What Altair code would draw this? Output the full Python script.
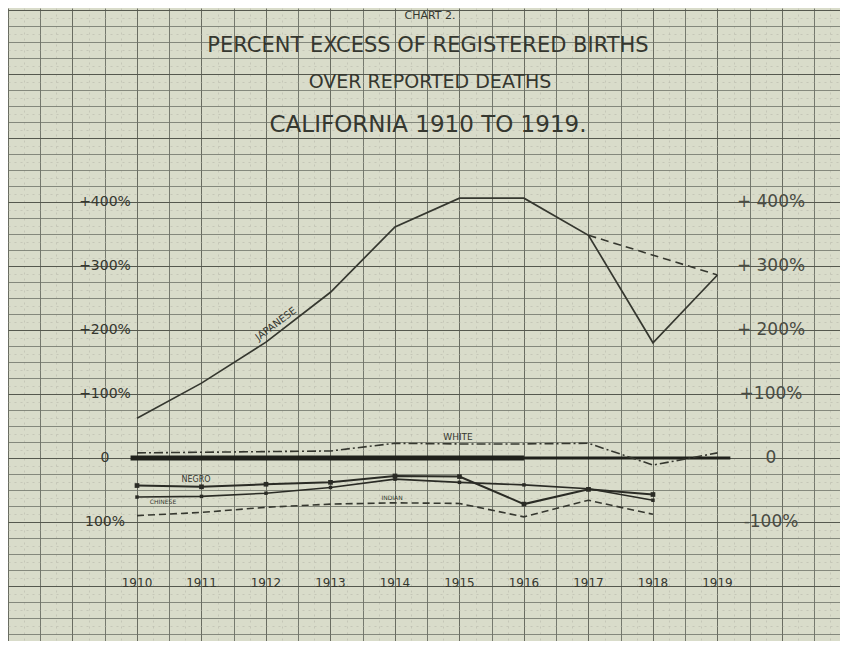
import altair as alt
import pandas as pd
import numpy as np

# ---------------- data ----------------
years = [1910, 1911, 1912, 1913, 1914, 1915, 1916, 1917, 1918, 1919]
japanese = [62, 117, 181, 259, 361, 406, 406, 348, 180, 286]
japanese_alt_years = [1917, 1919]
japanese_alt = [348, 286]
white = [8, 9, 10, 11, 23, 22, 22, 23, -11, 8]
years_to_1918 = [1910, 1911, 1912, 1913, 1914, 1915, 1916, 1917, 1918]
negro = [-43, -45, -41, -38, -28, -29, -72, -49, -57]
chinese = [-61, -60, -55, -46, -33, -38, -42, -48, -66]
indian = [-90, -85, -77, -72, -70, -71, -92, -66, -88]

tick_values = [400, 300, 200, 100, 0, -100]
left_tick_labels = ["+400%", "+300%", "+200%", "+100%", "0", "100%"]
right_tick_labels = ["+ 400%", "+ 300%", "+ 200%", "+100%", "0", "-100%"]
year_labels = [str(y) for y in years]

zero_thick_span = [1909.9, 1916.0]
zero_thin_span = [1916.0, 1919.2]

title_lines = ["PERCENT EXCESS OF REGISTERED BIRTHS",
               "OVER REPORTED DEATHS",
               "CALIFORNIA 1910 TO 1919."]
chart_label = "CHART 2."

# ---------------- styling ----------------
PAPER = "#d9dcca"
INK = "#35372f"
W, H = 832, 633

xs = alt.Scale(domain=[1908.0, 1920.9], nice=False, zero=False)
ys = alt.Scale(domain=[-285.9, 703.1], nice=False, zero=False)

x_grid_vals = [float(v) for v in np.arange(1908.0, 1921.0, 0.25)]
y_grid_vals = [float(v) for v in np.arange(-275.0, 701.0, 12.5)]

x_axis = alt.Axis(
    values=x_grid_vals, grid=True, labels=False, ticks=False, domain=False, title="",
    gridColor={"condition": [{"test": "datum.value % 1 === 0", "value": "#5c5f55"},
                             {"test": "datum.value % 0.5 === 0", "value": "#6a6d63"}],
               "value": "#b0b3a5"},
    gridWidth={"condition": [{"test": "datum.value % 0.5 === 0", "value": 0.9}], "value": 0.5},
    gridDash={"condition": [{"test": "datum.value % 0.5 === 0", "value": []}], "value": [2, 4]},
)
y_axis = alt.Axis(
    values=y_grid_vals, grid=True, labels=False, ticks=False, domain=False, title="",
    gridColor={"condition": [{"test": "datum.value % 100 === 0", "value": "#55584e"},
                             {"test": "datum.value % 25 === 0", "value": "#6f7268"}],
               "value": "#b0b3a5"},
    gridWidth={"condition": [{"test": "datum.value % 100 === 0", "value": 1.1},
                             {"test": "datum.value % 25 === 0", "value": 0.8}], "value": 0.5},
    gridDash={"condition": [{"test": "datum.value % 25 === 0", "value": []}], "value": [2, 4]},
)

X = lambda f: alt.X(f, type="quantitative", scale=xs, axis=x_axis)
Y = lambda f: alt.Y(f, type="quantitative", scale=ys, axis=y_axis)

df_jap = pd.DataFrame({"year": years, "v": japanese})
df_jap_alt = pd.DataFrame({"year": japanese_alt_years, "v": japanese_alt})
df_white = pd.DataFrame({"year": years, "v": white})
df_negro = pd.DataFrame({"year": years_to_1918, "v": negro})
df_chinese = pd.DataFrame({"year": years_to_1918, "v": chinese})
df_indian = pd.DataFrame({"year": years_to_1918, "v": indian})

layers = []

# zero baseline (heavy)
df_zero1 = pd.DataFrame({"x": [zero_thick_span[0]], "x2": [zero_thick_span[1]], "v": [0]})
df_zero2 = pd.DataFrame({"x": [zero_thin_span[0]], "x2": [zero_thin_span[1]], "v": [0]})
layers.append(alt.Chart(df_zero1).mark_rule(color="#1f201b", strokeWidth=5).encode(
    x=X("x"), x2="x2", y=Y("v")))
layers.append(alt.Chart(df_zero2).mark_rule(color="#1f201b", strokeWidth=3).encode(
    x=X("x"), x2="x2", y=Y("v")))

# series
layers.append(alt.Chart(df_jap).mark_line(color=INK, strokeWidth=1.7).encode(x=X("year"), y=Y("v")))
layers.append(alt.Chart(df_jap_alt).mark_line(color=INK, strokeWidth=1.6, strokeDash=[8, 5]).encode(
    x=X("year"), y=Y("v")))
layers.append(alt.Chart(df_white).mark_line(color=INK, strokeWidth=1.6, strokeDash=[9, 3, 2, 3]).encode(
    x=X("year"), y=Y("v")))
layers.append(alt.Chart(df_negro).mark_line(color="#2a2b25", strokeWidth=2.0,
                                            point=alt.OverlayMarkDef(shape="square", size=22, filled=True, color="#2a2b25")).encode(
    x=X("year"), y=Y("v")))
layers.append(alt.Chart(df_chinese).mark_line(color="#2a2b25", strokeWidth=1.6,
                                              point=alt.OverlayMarkDef(shape="square", size=12, filled=True, color="#2a2b25")).encode(
    x=X("year"), y=Y("v")))
layers.append(alt.Chart(df_indian).mark_line(color=INK, strokeWidth=1.6, strokeDash=[7, 4]).encode(
    x=X("year"), y=Y("v")))

# axis labels (left and right) at value positions
df_ticks = pd.DataFrame({"v": tick_values, "left": left_tick_labels, "right": right_tick_labels})
layers.append(alt.Chart(df_ticks).mark_text(font="DejaVu Sans", fontSize=14, color=INK, align="center",
                                            baseline="middle").encode(
    x=alt.value(97), y=Y("v"), text="left:N"))
layers.append(alt.Chart(df_ticks).mark_text(font="DejaVu Sans", fontSize=17, color="#4a4c44", align="center",
                                            baseline="middle").encode(
    x=alt.value(763), y=Y("v"), text="right:N"))

# year labels below
df_years = pd.DataFrame({"year": years, "lab": year_labels})
layers.append(alt.Chart(df_years).mark_text(font="DejaVu Sans", fontSize=12, color=INK, align="center",
                                            baseline="middle").encode(
    x=X("year"), y=alt.value(575), text="lab:N"))

# series name labels
def label(txt, x, y, size, angle=0):
    d = pd.DataFrame({"t": [txt]})
    kw = dict(font="DejaVu Sans", fontSize=size, color=INK, align="center", baseline="middle")
    if angle:
        kw["angle"] = angle
    return alt.Chart(d).mark_text(**kw).encode(x=alt.value(x), y=alt.value(y), text="t:N")

layers.append(label("JAPANESE", 268, 316, 10, 323))
layers.append(label("WHITE", 450, 429, 9))
layers.append(label("NEGRO", 188, 472, 8))
layers.append(label("CHINESE", 155, 494, 6))
layers.append(label("INDIAN", 384, 490, 6))

# titles
layers.append(label(chart_label, 422, 8, 11))
layers.append(label(title_lines[0], 420, 38, 21))
layers.append(label(title_lines[1], 422, 74, 19))
layers.append(label(title_lines[2], 420, 117, 23))

chart = alt.layer(*layers).properties(
    width=W, height=H, background=PAPER, padding=0,
    autosize=alt.AutoSizeParams(type="none")
).configure_view(strokeWidth=0)

chart.save("out.html", embed_options={"renderer": "svg", "actions": False})
